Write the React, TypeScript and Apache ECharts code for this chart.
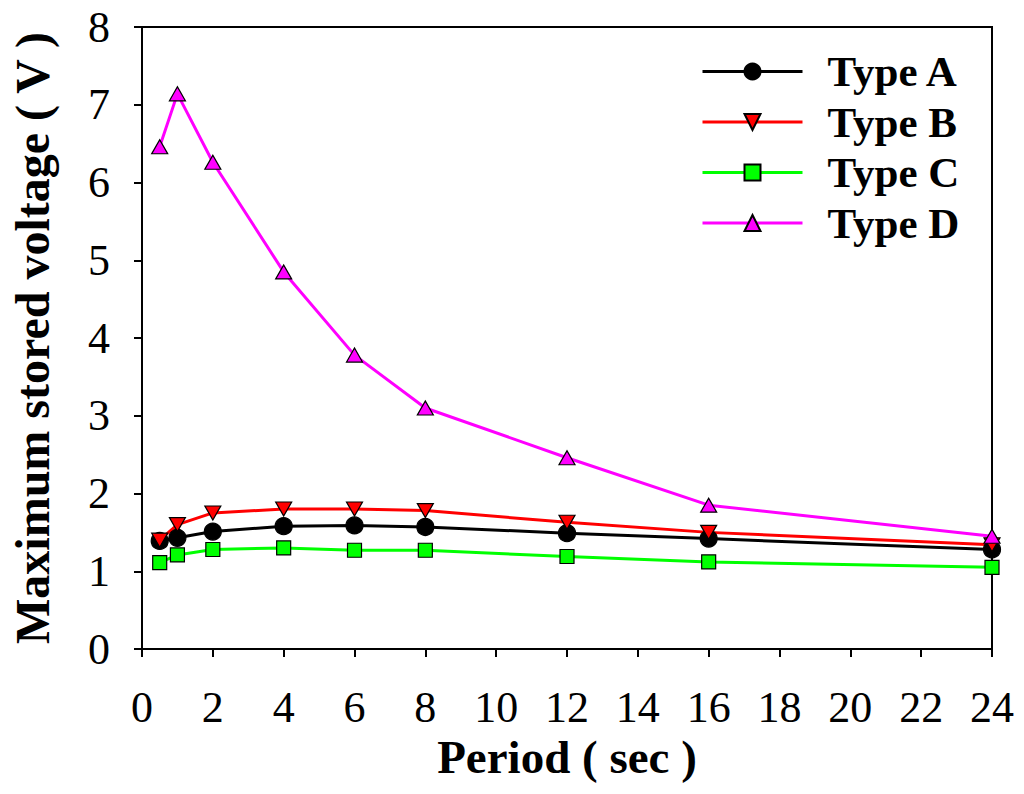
import React, { useEffect, useRef } from "react";
import * as echarts from "echarts";

const periods = [0.5, 1, 2, 4, 6, 8, 12, 16, 24];
const typeA = [1.39, 1.43, 1.51, 1.58, 1.59, 1.57, 1.49, 1.42, 1.28];
const typeB = [1.4, 1.6, 1.75, 1.8, 1.8, 1.78, 1.63, 1.5, 1.34];
const typeC = [1.11, 1.21, 1.28, 1.3, 1.27, 1.27, 1.19, 1.12, 1.05];
const typeD = [6.46, 7.14, 6.26, 4.85, 3.78, 3.1, 2.46, 1.85, 1.45];
const seriesNames = ["Type A", "Type B", "Type C", "Type D"];

const FONT = "'Liberation Serif', 'Times New Roman', serif";

export default function App() {
  const ref = useRef<HTMLDivElement>(null);
  useEffect(() => {
    if (!ref.current) return;
    const chart = echarts.init(ref.current, null, { renderer: "svg" });
    const pair = (ys: number[]) => periods.map((x, i) => [x, ys[i]]);
    const mk = (
      name: string,
      ys: number[],
      color: string,
      symbol: string,
      size: number | number[],
      rotate = 0
    ) => ({
      name,
      type: "line",
      data: pair(ys),
      symbol,
      symbolSize: size,
      symbolRotate: rotate,
      showAllSymbol: true,
      lineStyle: { color, width: 3 },
      itemStyle: { color, borderColor: "#000", borderWidth: 1.2 },
      emphasis: { disabled: true },
    });
    chart.setOption({
      animation: false,
      backgroundColor: "#fff",
      grid: {
        left: 134,
        top: 27,
        right: 32,
        bottom: 145,
        show: true,
        borderColor: "#000",
        borderWidth: 2,
        backgroundColor: "transparent",
      },
      legend: {
        orient: "vertical",
        left: 696,
        top: 45,
        itemWidth: 100,
        itemHeight: 20,
        itemGap: 7.5,
        data: seriesNames,
        lineStyle: { width: 3 },
        textStyle: {
          fontFamily: FONT,
          fontWeight: "bold",
          fontSize: 43,
          color: "#000",
          padding: [0, 0, 0, 20],
        },
      },
      xAxis: {
        type: "value",
        min: 0,
        max: 24,
        interval: 2,
        name: "Period ( sec )",
        nameLocation: "middle",
        nameGap: 80,
        nameTextStyle: {
          fontFamily: FONT,
          fontWeight: "bold",
          fontSize: 47,
          color: "#000",
        },
        axisLine: { lineStyle: { color: "#000", width: 2 } },
        axisTick: { length: 8, lineStyle: { color: "#000", width: 2 } },
        axisLabel: {
          fontFamily: FONT,
          fontSize: 44,
          color: "#000",
          margin: 36,
        },
        splitLine: { show: false },
      },
      yAxis: {
        type: "value",
        min: 0,
        max: 8,
        interval: 1,
        name: "Maximum stored voltage ( V )",
        nameLocation: "middle",
        nameRotate: 90,
        nameGap: 86,
        nameTextStyle: {
          fontFamily: FONT,
          fontWeight: "bold",
          fontSize: 48,
          color: "#000",
        },
        axisLine: { lineStyle: { color: "#000", width: 2 } },
        axisTick: { length: 8, lineStyle: { color: "#000", width: 2 } },
        axisLabel: {
          fontFamily: FONT,
          fontSize: 44,
          color: "#000",
          margin: 32,
        },
        splitLine: { show: false },
      },
      series: [
        mk("Type A", typeA, "#000000", "circle", 17),
        mk("Type B", typeB, "#ff0000", "triangle", [16, 14], 180),
        mk("Type C", typeC, "#00ff00", "rect", 14),
        mk("Type D", typeD, "#ff00ff", "triangle", [16, 14]),
      ],
    });
    return () => chart.dispose();
  }, []);
  return (
    <div
      ref={ref}
      style={{ position: "absolute", left: 0, top: 0, width: 1024, height: 794 }}
    />
  );
}
